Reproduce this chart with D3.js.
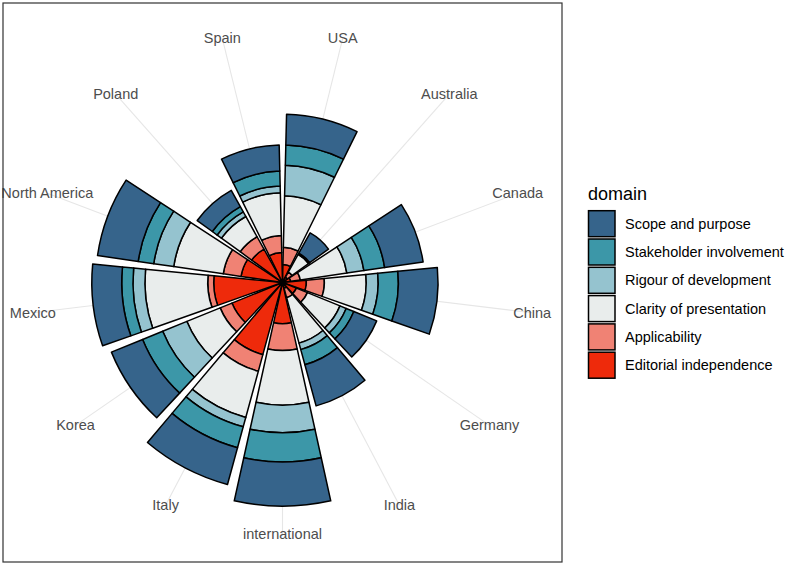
<!DOCTYPE html>
<html>
<head>
<meta charset="utf-8">
<script src="https://cdn.jsdelivr.net/npm/d3@7"></script>
<style>
  body { margin: 0; background: #fff; }
  text { font-family: "Liberation Sans", Arial, Helvetica, sans-serif; }
</style>
</head>
<body>
<div id="chart"></div>
<script>
// categories, clockwise from 12 o'clock
const countries = ["USA", "Australia", "Canada", "China", "Germany", "India",
  "international", "Italy", "Korea", "Mexico", "North America", "Poland", "Spain"];

// legend order (outermost ring first)
const domains = ["Scope and purpose", "Stakeholder involvement", "Rigour of development",
  "Clarity of presentation", "Applicability", "Editorial independence"];
const colours = ["#36648b", "#3c97a8", "#95c3cf", "#e9edec", "#f08274", "#ee2a0b"];

// domain scores per country (same order as countries)
const scope        = [41, 31, 52, 53, 33, 57, 59, 51, 45, 40, 55, 25, 35];
const stakeholder  = [27,  1, 28, 27, 11, 21, 39, 29, 29, 15, 21,  8, 20];
const rigour       = [41,  1, 23, 16,  9,  9, 37, 13, 35, 16, 27,  7,  9];
const clarity      = [69, 27, 63, 56, 47, 63, 73, 64, 48, 84, 67, 31, 57];
const applicability= [23,  8, 13, 24, 16, 13, 36, 23, 17,  8, 24, 19, 23];
const editorial    = [24,  8, 11, 32, 20,  8, 55, 100, 73, 92, 56, 51, 40];

const series = [scope, stakeholder, rigour, clarity, applicability, editorial];

const width = 788, height = 564;
const panel = { x: 3, y: 3, size: 559 };
const cx = panel.x + panel.size / 2, cy = panel.y + panel.size / 2;

const svg = d3.select("#chart").append("svg")
  .attr("width", width).attr("height", height);

// table for stacking, innermost domain first
const table = countries.map((c, i) => {
  const row = { country: c };
  domains.forEach((d, j) => row[d] = series[j][i]);
  return row;
});
const stackKeys = domains.slice().reverse();
const stacked = d3.stack().keys(stackKeys)(table);

const x = d3.scaleBand().domain(countries)
  .range([0, 2 * Math.PI]).paddingInner(0.1).paddingOuter(0.05);
const maxTotal = d3.max(table, d => d3.sum(domains, k => d[k]));
const r = d3.scaleLinear().domain([0, maxTotal]).range([0, 0.4 * panel.size]);

const colour = d3.scaleOrdinal().domain(domains).range(colours);

const g = svg.append("g").attr("transform", "translate(" + cx + "," + cy + ")");

// theta grid lines
const labelR = 0.45 * panel.size;
g.append("g").selectAll("line")
  .data(countries).join("line")
  .attr("x1", 0).attr("y1", 0)
  .attr("x2", d => labelR * Math.sin(x(d) + x.bandwidth() / 2))
  .attr("y2", d => -labelR * Math.cos(x(d) + x.bandwidth() / 2))
  .attr("stroke", "#e6e6e6").attr("stroke-width", 1.1);

// bars
const arc = d3.arc()
  .innerRadius(d => r(d[0]))
  .outerRadius(d => r(d[1]))
  .startAngle(d => x(d.data.country))
  .endAngle(d => x(d.data.country) + x.bandwidth());

g.append("g").selectAll("g")
  .data(stacked).join("g")
  .attr("fill", d => colour(d.key))
  .selectAll("path")
  .data(d => d).join("path")
  .attr("d", arc)
  .attr("stroke", "#000").attr("stroke-width", 1.5)
  .attr("stroke-linejoin", "round");

// category labels
g.append("g").selectAll("text")
  .data(countries).join("text")
  .attr("x", d => labelR * Math.sin(x(d) + x.bandwidth() / 2))
  .attr("y", d => -labelR * Math.cos(x(d) + x.bandwidth() / 2))
  .attr("text-anchor", "middle")
  .attr("dominant-baseline", "central")
  .attr("font-size", 14.5)
  .attr("fill", "#4d4d4d")
  .text(d => d);

// panel border
svg.append("rect")
  .attr("x", panel.x).attr("y", panel.y)
  .attr("width", panel.size).attr("height", panel.size)
  .attr("fill", "none").attr("stroke", "#333").attr("stroke-width", 1.2);

// legend
const legend = svg.append("g").attr("transform", "translate(588,0)");
legend.append("text")
  .attr("x", 0).attr("y", 200)
  .attr("font-size", 18).attr("fill", "#000")
  .text("domain");

const items = legend.selectAll("g.item")
  .data(domains).join("g")
  .attr("class", "item")
  .attr("transform", (d, i) => "translate(0," + (210.7 + i * 28.3) + ")");
items.append("rect")
  .attr("x", 0.5).attr("y", 0)
  .attr("width", 26.5).attr("height", 26)
  .attr("fill", d => colour(d))
  .attr("stroke", "#000").attr("stroke-width", 1.5);
items.append("text")
  .attr("x", 37).attr("y", 13)
  .attr("dominant-baseline", "central")
  .attr("font-size", 14.5).attr("fill", "#000")
  .text(d => d);
</script>
</body>
</html>
